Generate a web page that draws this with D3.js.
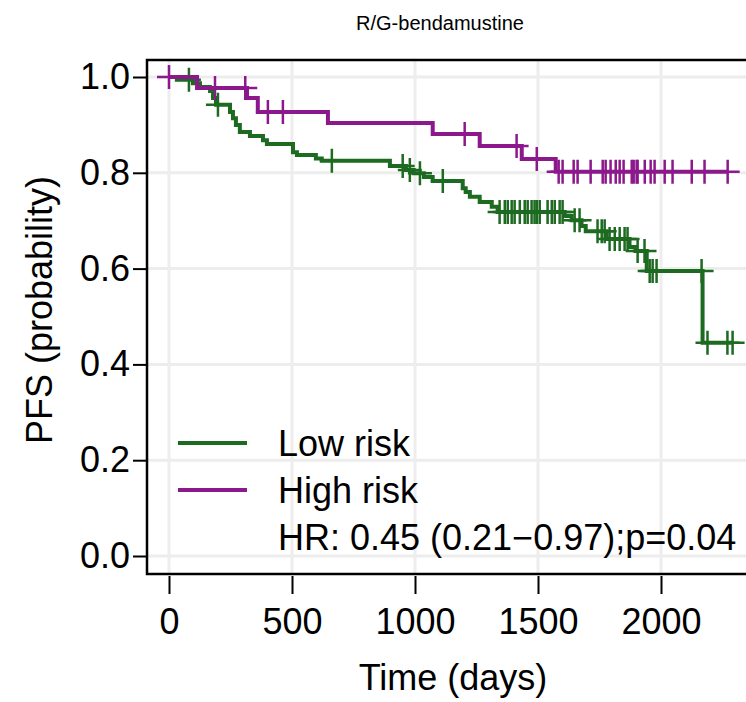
<!DOCTYPE html>
<html>
<head>
<meta charset="utf-8">
<script src="https://cdn.jsdelivr.net/npm/d3@7"></script>
<style>
  body { margin: 0; background: #fff; }
  text { font-family: "Liberation Sans", Arial, sans-serif; fill: #000; }
</style>
</head>
<body>
<div id="chart"></div>
<script>
// Low risk curve: event times (days) and survival after each step
const lowTimes = [32, 97, 126, 167, 179, 191, 248, 260, 272, 288, 329, 382, 398, 504, 520, 597, 621,
  898, 963, 995, 1036, 1072, 1194, 1206, 1223, 1263, 1312, 1336, 1608, 1637, 1677, 1694, 1779,
  1872, 1897, 1942, 2169];
const lowSurv = [0.994, 0.987, 0.979, 0.971, 0.956, 0.942, 0.927, 0.914, 0.900, 0.885, 0.877, 0.868, 0.860,
  0.843, 0.837, 0.830, 0.825, 0.814, 0.806, 0.799, 0.791, 0.783, 0.768, 0.760, 0.750, 0.739, 0.729,
  0.718, 0.710, 0.701, 0.689, 0.678, 0.662, 0.645, 0.637, 0.595, 0.445];
const lowCensor = [81, 199, 662, 950, 979, 1020, 1113, 1344, 1365, 1377, 1393, 1405, 1426, 1446, 1458,
  1474, 1486, 1495, 1507, 1539, 1556, 1568, 1588, 1600, 1649, 1669, 1742, 1759, 1771, 1791, 1812,
  1832, 1852, 1864, 1905, 1933, 1954, 1966, 1982, 2165, 2189, 2270, 2291];

// High risk curve
const highTimes = [114, 317, 361, 646, 1072, 1263, 1434, 1572];
const highSurv = [0.977, 0.956, 0.927, 0.904, 0.881, 0.856, 0.829, 0.802];
const highCensor = [0, 187, 310, 402, 463, 1202, 1413, 1495, 1584, 1600, 1645, 1661, 1714, 1763, 1775,
  1795, 1816, 1832, 1848, 1881, 1889, 1901, 1905, 1934, 1958, 1974, 2015, 2047, 2125, 2177, 2271];

const xTicks = [0, 500, 1000, 1500, 2000];
const yTicks = [0, 0.2, 0.4, 0.6, 0.8, 1.0];
const legendLabels = ["Low risk", "High risk"];
const hrText = "HR: 0.45 (0.21\u22120.97);p=0.04";

const green = "#1d6a21";
const purple = "#8c198c";

const width = 746, height = 702;
const panel = { left: 147, top: 60, right: 762, bottom: 574 };

const svg = d3.select("#chart").append("svg")
  .attr("width", width)
  .attr("height", height);

const x = d3.scaleLinear().domain([0, 2000]).range([169, 661]);
const y = d3.scaleLinear().domain([0, 1]).range([556, 77]);

svg.append("defs").append("clipPath").attr("id", "clip")
  .append("rect")
  .attr("x", panel.left).attr("y", panel.top)
  .attr("width", panel.right - panel.left).attr("height", panel.bottom - panel.top);

// grid
const grid = svg.append("g").attr("clip-path", "url(#clip)");
grid.selectAll(".vg").data(xTicks).join("line")
  .attr("x1", d => x(d)).attr("x2", d => x(d))
  .attr("y1", panel.top).attr("y2", panel.bottom)
  .attr("stroke", "#ededed").attr("stroke-width", 3);
grid.selectAll(".hg").data(yTicks).join("line")
  .attr("y1", d => y(d)).attr("y2", d => y(d))
  .attr("x1", panel.left).attr("x2", panel.right)
  .attr("stroke", "#ededed").attr("stroke-width", 3);

// step value at time t
function survAt(times, surv, t) {
  let s = 1;
  times.forEach((tt, i) => { if (tt <= t) s = surv[i]; });
  return s;
}

function drawCurve(times, surv, censor, color) {
  const g = svg.append("g").attr("clip-path", "url(#clip)");
  const pts = [[0, 1]].concat(times.map((t, i) => [t, surv[i]]));
  const last = d3.max(censor.concat(times));
  pts.push([last, survAt(times, surv, last)]);

  g.append("path")
    .datum(pts)
    .attr("fill", "none")
    .attr("stroke", color)
    .attr("stroke-width", 4)
    .attr("d", d3.line().x(d => x(d[0])).y(d => y(d[1])).curve(d3.curveStepAfter));

  const marks = censor.map(t => [t, survAt(times, surv, t)]);
  g.selectAll(".cens")
    .data(marks)
    .join("path")
    .attr("fill", "none")
    .attr("stroke", color)
    .attr("stroke-width", 2.5)
    .attr("d", d => {
      const cx = x(d[0]), cy = y(d[1]);
      return `M${cx - 12},${cy}H${cx + 12}M${cx},${cy - 12}V${cy + 12}`;
    });
}

drawCurve(lowTimes, lowSurv, lowCensor, green);
drawCurve(highTimes, highSurv, highCensor, purple);

// panel border
svg.append("rect")
  .attr("x", panel.left).attr("y", panel.top)
  .attr("width", panel.right - panel.left).attr("height", panel.bottom - panel.top)
  .attr("fill", "none").attr("stroke", "#000").attr("stroke-width", 2.5);

// y axis
const yAxis = svg.append("g")
  .attr("transform", `translate(${panel.left},0)`)
  .call(d3.axisLeft(y).tickValues(yTicks).tickFormat(d3.format(".1f")).tickSize(14).tickPadding(3));
yAxis.select(".domain").remove();
yAxis.selectAll(".tick line").attr("stroke-width", 2);
yAxis.selectAll(".tick text").style("font-size", "36px")
  .style("font-family", "'Liberation Sans', Arial, sans-serif");

// x axis
const xAxis = svg.append("g")
  .attr("transform", `translate(0,${panel.bottom + 2})`)
  .call(d3.axisBottom(x).tickValues(xTicks).tickFormat(d3.format("d")).tickSize(18).tickPadding(14));
xAxis.select(".domain").remove();
xAxis.selectAll(".tick line").attr("stroke-width", 2);
xAxis.selectAll(".tick text").style("font-size", "36px")
  .style("font-family", "'Liberation Sans', Arial, sans-serif");

// titles
svg.append("text")
  .attr("x", 440).attr("y", 30)
  .attr("text-anchor", "middle")
  .style("font-size", "20px")
  .text("R/G-bendamustine");

svg.append("text")
  .attr("x", 453).attr("y", 690)
  .attr("text-anchor", "middle")
  .style("font-size", "36px")
  .text("Time (days)");

svg.append("text")
  .attr("transform", "translate(52,310) rotate(-90)")
  .attr("text-anchor", "middle")
  .style("font-size", "36px")
  .text("PFS (probability)");

// legend
const legend = svg.append("g");
const legY = [443, 490];
[green, purple].forEach((c, i) => {
  legend.append("line")
    .attr("x1", 178).attr("x2", 247)
    .attr("y1", legY[i]).attr("y2", legY[i])
    .attr("stroke", c).attr("stroke-width", 4);
  legend.append("text")
    .attr("x", 278).attr("y", legY[i])
    .attr("dy", "0.35em")
    .style("font-size", "36px")
    .text(legendLabels[i]);
});
legend.append("text")
  .attr("x", 278).attr("y", 537)
  .attr("dy", "0.35em")
  .style("font-size", "36px")
  .text(hrText);
</script>
</body>
</html>
